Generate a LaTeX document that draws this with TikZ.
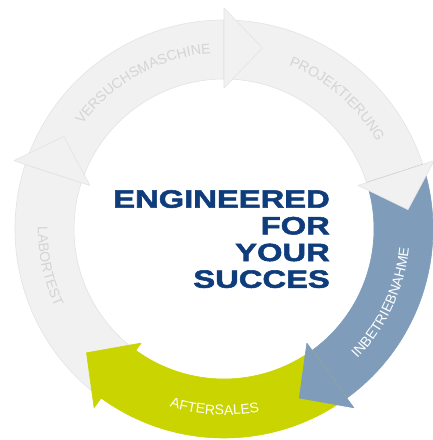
\documentclass[tikz,border=0pt]{standalone}
\usepackage{fontspec}
\setmainfont{Liberation Sans}
\newfontfamily\titlefont[FakeStretch=1.31,FakeBold=2.2]{Liberation Sans Bold}
\usetikzlibrary{decorations.text}
\definecolor{ringgray}{HTML}{F1F1F1}
\definecolor{ringline}{HTML}{E3E3E3}
\definecolor{labelgray}{HTML}{D4D4D4}
\definecolor{ringblue}{HTML}{7F9DBB}
\definecolor{ringgreen}{HTML}{C9D400}
\definecolor{titleblue}{HTML}{0F3C7B}
\newcommand{\labelfont}{\fontsize{14}{14}\selectfont}

\begin{document}
\begin{tikzpicture}[
    x=1pt,y=1pt,
    band/.style={line width=0.6pt,line join=round},
    upper/.style={decorate,decoration={text along path,text align=center,text color=#1}},
    title/.style={anchor=north east,align=right,inner sep=0pt,text=titleblue,
      font=\titlefont\fontsize{25}{26.7}\selectfont}
  ]
    \useasboundingbox (-224,-211) rectangle (208,229);
    \foreach \a/\c/\l in {162/ringgray/ringline,90/ringgray/ringline,18/ringgray/ringline,-54/ringblue/ringblue,-126/ringgreen/ringgreen}{
      \filldraw[band,fill=\c,draw=\l] (\a+72:150) arc[start angle=\a+72,end angle=\a,radius=150]
        -- (\a:209) arc[start angle=\a,end angle=\a+72,radius=209] -- cycle;
    }
    \foreach \a/\c/\l in {162/ringgray/ringline,90/ringgray/ringline,18/ringgray/ringline,-54/ringblue/ringblue,-126/ringgreen/ringgreen}{
      \filldraw[band,fill=\c,draw=\l] (\a:141) -- (\a-12:185) -- (\a:221) -- cycle;
    }
    \path[upper=labelgray,decoration={text={|\labelfont|VERSUCHSMASCHINE}}]
      (159:176) arc[start angle=159,end angle=79,radius=176];
    \path[upper=labelgray,decoration={text={|\labelfont|PROJEKTIERUNG}}]
      (89:176) arc[start angle=89,end angle=9,radius=176];
    \path[upper=white,decoration={text={|\labelfont|INBETRIEBNAHME}}]
      (-65:186) arc[start angle=-65,end angle=15,radius=186];
    \path[upper=white,decoration={text={|\labelfont|AFTERSALES}}]
      (-133:186) arc[start angle=-133,end angle=-53,radius=186];
    \path[upper=labelgray,decoration={text={|\labelfont|LABORTEST}}]
      (152:186) arc[start angle=152,end angle=232,radius=186];
    \node[title] (title) at (106,39) {ENGINEERED\\FOR\\YOUR\\SUCCES};
  \end{tikzpicture}
\end{document}
